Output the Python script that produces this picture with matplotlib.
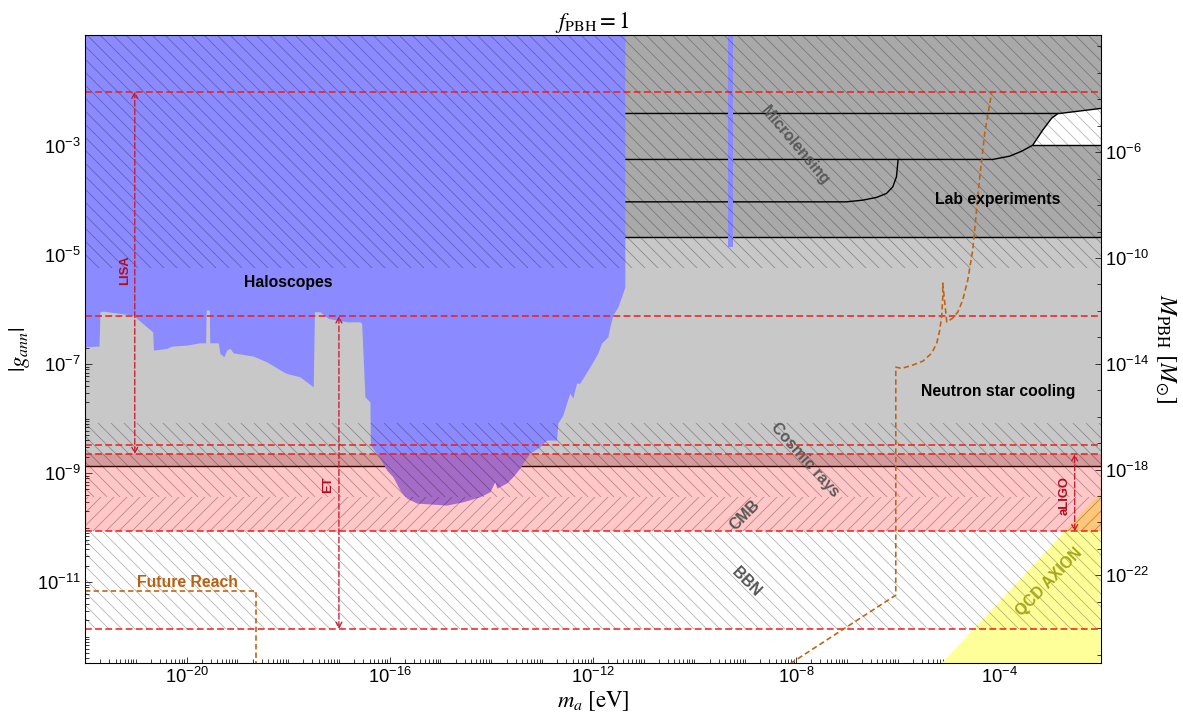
import numpy as np
import matplotlib.pyplot as plt
from matplotlib.ticker import FixedLocator, LogLocator, NullFormatter

plt.rcParams['font.family'] = ['Liberation Sans', 'DejaVu Sans']
plt.rcParams['mathtext.fontset'] = 'stix'
plt.rcParams['hatch.linewidth'] = 0.75

# --- axis ranges (log10) ---
XLIM = (-22.0, -2.0)
YLIM = (-12.48, -0.96)

# M_PBH = 10**A * g**B  (right-hand axis)
M_A, M_B = 0.407, 2.06

# --- haloscope exclusion: lower edge, log10(m_a) vs log10(g) ---
halo_logm = [-22.0, -21.77, -21.724, -21.705, -21.646, -21.055, -20.785, -20.667, -20.652,
             -20.392, -20.293, -19.998, -19.736, -19.624, -19.614, -19.553, -19.543, -19.376,
             -19.343, -19.264, -19.211, -19.146, -19.081, -18.687, -18.423, -18.096, -18.03,
             -17.768, -17.506, -17.482, -17.374, -17.211, -16.848, -16.587, -16.553, -16.488,
             -16.39, -16.38, -16.193, -16.061, -15.937, -15.799, -15.667, -15.47, -14.88,
             -14.559, -14.224, -14.028, -13.929, -13.89, -13.699, -13.575, -13.437, -13.378,
             -13.24, -13.043, -12.911, -12.715, -12.689, -12.591, -12.518, -12.453, -12.394,
             -12.321, -12.256, -12.098, -12.0, -11.902, -11.829, -11.705, -11.665, -11.606,
             -11.508, -11.435, -11.37]
halo_logg = [-6.683, -6.670, -6.670, -6.040, -6.028, -6.101, -6.316, -6.407, -6.743,
             -6.712, -6.670, -6.651, -6.609, -6.609, -6.009, -6.009, -6.609, -6.609,
             -6.804, -6.866, -6.743, -6.712, -6.793, -6.853, -6.958, -7.141, -7.171,
             -7.233, -7.417, -6.040, -6.040, -6.161, -6.224, -6.224, -6.253, -7.600,
             -7.692, -8.486, -8.725, -8.945, -9.068, -9.312, -9.459, -9.550, -9.587,
             -9.527, -9.435, -9.343, -9.160, -9.275, -9.183, -9.068, -8.908, -8.817,
             -8.633, -8.517, -8.394, -8.394, -8.083, -7.936, -7.716, -7.532, -7.624,
             -7.349, -7.349, -7.110, -6.958, -6.798, -6.615, -6.499, -6.316, -6.101,
             -5.949, -5.765, -5.582]

# narrow haloscope strip
strip_logm = [-9.348, -9.25]
strip_logg_low = -4.853

# neutron star cooling (light grey) lower edge
nsc_logg_low = -8.872

# lab experiments (dark grey) block and its contour lines
lab_logm_low = -11.37
lab_logg_low = -4.675
lab_lines = [
    ([-11.37, -2.807, -2.0], [-2.40, -2.40, -2.308]),
    ([-11.37, -4.126, -3.791, -3.555, -3.339, -3.142, -2.965, -2.84],
     [-3.244, -3.244, -3.183, -3.092, -2.982, -2.706, -2.486, -2.40]),
    ([-3.339, -2.0], [-2.982, -2.982]),
    ([-11.37, -7.006, -6.685, -6.415, -6.218, -6.094, -6.022, -5.99],
     [-4.022, -4.022, -3.991, -3.941, -3.868, -3.747, -3.563, -3.257]),
    ([-11.37, -2.0], [-4.675, -4.675]),
]
gap_logm = [-3.339, -2.0, -2.0, -2.807, -2.84, -2.965, -3.142, -3.339]
gap_logg = [-2.982, -2.982, -2.308, -2.40, -2.40, -2.486, -2.706, -2.982]

# CMB band
cmb_logg = (-10.07, -8.651)

# QCD axion wedge
qcd_logm = [-6.0, -2.0, -2.0]
qcd_logg = [-13.36, -9.36, -14.0]

# hatched bands: (low, high, pattern)
hatch_bands = [(-5.239, 0.0, '\\\\'), (-9.44, -8.083, '\\\\'), (-10.07, -9.44, '//'),
               (-11.86, -10.07, '\\\\')]

# detector reach lines
reach_logg = [-2.0, -6.12, -8.486, -8.651, -10.07, -11.86]
gw_arrows = [('LISA', -21.02, -2.0, -8.651, -21.213, -5.275),
             ('ET', -17.0, -6.12, -11.86, -17.217, -9.22),
             ('aLIGO', -2.512, -8.651, -10.07, -2.709, -9.404)]

# future reach curves
future1_logm = [-22.0, -18.634, -18.634]
future1_logg = [-11.16, -11.16, -12.7]
future2_logm = [-8.25, -6.035, -6.035, -5.923, -5.70, -5.50, -5.327, -5.228, -5.169, -5.130,
                -5.110, -5.110, -5.031, -4.913, -4.815, -4.717, -4.618, -4.520, -4.382,
                -4.283, -4.146]
future2_logg = [-12.58, -11.24, -7.055, -7.079, -7.018, -6.945, -6.798, -6.615, -6.376, -6.101,
                -5.771, -5.514, -6.229, -6.156, -6.046, -5.826, -5.459, -4.908, -3.569,
                -2.761, -2.009]

# region labels: text, log m, log g, rotation, colour
region_labels = [
    ('Haloscopes', -18.004, -5.495, 0, 'black'),
    ('Microlensing', -8.024, -2.98, -50, '#5a5a5a'),
    ('Lab experiments', -4.028, -3.972, 0, 'black'),
    ('Neutron star cooling', -4.028, -7.495, 0, 'black'),
    ('Cosmic rays', -7.827, -8.761, -48, '#5a5a5a'),
    ('CMB', -9.008, -9.771, 45, '#555555'),
    ('BBN', -8.988, -11.0, -45, '#555555'),
    ('QCD AXION', -3.004, -11.0, 46, '#a6a61a'),
    ('Future Reach', -19.992, -11.0, 0, '#b8600f'),
]

x_major = [1e-20, 1e-16, 1e-12, 1e-8, 1e-4]
y_major = [1e-3, 1e-5, 1e-7, 1e-9, 1e-11]
M_major = [1e-6, 1e-10, 1e-14, 1e-18, 1e-22]


def p(v):
    return 10.0 ** np.asarray(v)


def g_to_M(g):
    return 10 ** M_A * g ** M_B


DPI = 78
W, H = 1183, 718
fig = plt.figure(figsize=(W / DPI, H / DPI), dpi=DPI)
ax = fig.add_axes([85 / W, 1 - 662.7 / H, (1100.7 - 85) / W, (662.7 - 35) / H])
ax.set_xscale('log')
ax.set_yscale('log')
xlo, xhi = p(XLIM)
ylo, yhi = p(YLIM)
ax.set_xlim(xlo, xhi)
ax.set_ylim(ylo, yhi)

full_x = [xlo, xhi]
# grey backgrounds
ax.fill_between(full_x, p(nsc_logg_low), 1, color='#c8c8c8', lw=0, zorder=1)
ax.fill_between([p(lab_logm_low), xhi], p(lab_logg_low), 1, color='#a9a9a9', lw=0, zorder=1.1)
ax.fill(p(gap_logm), p(gap_logg), color='white', lw=0, zorder=1.2)
for lm, lg in lab_lines:
    ax.plot(p(lm), p(lg), color='black', lw=1.3, zorder=1.5)
ax.axhline(p(nsc_logg_low), color='black', lw=1.3, zorder=1.5)

# haloscopes
ax.fill_between(p(halo_logm), p(halo_logg), 1, color='#8b8bff', lw=0, zorder=2)
ax.fill_between(p(strip_logm), p(strip_logg_low), 1, color='#8b8bff', lw=0, zorder=2)

# QCD axion band
ax.fill(p(qcd_logm), p(qcd_logg), color='#ffff99', lw=0, zorder=2.1)

# CMB band (translucent)
ax.axhspan(p(cmb_logg[0]), p(cmb_logg[1]), facecolor=(1, 0, 0, 0.22), lw=0, zorder=2.5)

# hatching
for lo, hi, pat in hatch_bands:
    ax.axhspan(p(lo), p(hi), facecolor='none', edgecolor=(0, 0, 0, 0.3), lw=0,
               hatch=pat, zorder=3)

# reach lines
for g in reach_logg:
    ax.axhline(p(g), color='#ec1c1c', lw=1.4, ls=(0, (4.5, 2.2)), zorder=4)

for name, m, g1, g2, tm, tg in gw_arrows:
    ax.annotate('', xy=(p(m), p(g1)), xytext=(p(m), p(g2)), zorder=4.5,
                arrowprops=dict(arrowstyle='<->,head_length=0.5,head_width=0.27',
                                color='#c8182a', lw=1.2, ls=(0, (4.5, 2)),
                                shrinkA=0, shrinkB=0, mutation_scale=10))
    ax.text(p(tm), p(tg), name, rotation=90, ha='center', va='center', color='#b30c1e',
            fontsize=12, fontweight='bold', zorder=5)

ax.plot(p(future1_logm), p(future1_logg), color='#be640f', lw=1.5, ls=(0, (3.3, 2)), zorder=4)
ax.plot(p(future2_logm), p(future2_logg), color='#be640f', lw=1.5, ls=(0, (3.3, 2)), zorder=4)

for s, m, g, rot, col in region_labels:
    ax.text(p(m), p(g), s, rotation=rot, rotation_mode='anchor', ha='center', va='center',
            color=col, fontsize=14.5, fontweight='bold', zorder=5)

# ticks
ax.xaxis.set_major_locator(FixedLocator(x_major))
ax.xaxis.set_minor_locator(LogLocator(base=10, subs=np.arange(1, 10), numticks=200))
ax.xaxis.set_minor_formatter(NullFormatter())
ax.yaxis.set_major_locator(FixedLocator(y_major))
ax.yaxis.set_minor_locator(LogLocator(base=10, subs=np.arange(1, 10), numticks=200))
ax.yaxis.set_minor_formatter(NullFormatter())
ax.tick_params(which='both', direction='in', top=False, right=False, labelsize=17,
               width=0.8, color='#222222')
ax.tick_params(which='major', length=6, pad=4)
ax.tick_params(which='minor', length=3.5)
for sp in ax.spines.values():
    sp.set_linewidth(1.0)

ax.set_title(r'$f_{\mathrm{PBH}} = 1$', fontsize=21, pad=6)
ax.set_xlabel(r'$m_a\ [\mathrm{eV}]$', fontsize=21, labelpad=2)
ax.set_ylabel(r'$|g_{ann}|$', fontsize=21, labelpad=4)

ax2 = ax.twinx()
ax2.set_yscale('log')
ax2.set_ylim(g_to_M(ylo), g_to_M(yhi))
ax2.yaxis.set_major_locator(FixedLocator(M_major))
ax2.yaxis.set_minor_locator(FixedLocator([10.0 ** k for k in range(-26, 0)]))
ax2.yaxis.set_minor_formatter(NullFormatter())
ax2.tick_params(which='both', direction='in', labelsize=17, width=0.8, color='#222222')
ax2.tick_params(which='major', length=6, pad=4)
ax2.tick_params(which='minor', length=3.5)
ax2.set_ylabel(r'$M_{\mathrm{PBH}}\ [M_{\odot}]$', fontsize=22, rotation=270, labelpad=26)

fig.savefig('out.png', dpi=DPI)
